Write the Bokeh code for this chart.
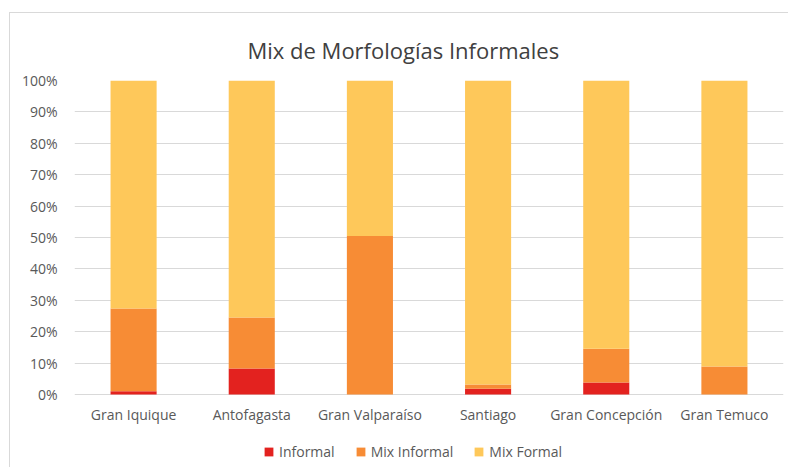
from bokeh.plotting import figure
from bokeh.models import FactorRange, Range1d, NumeralTickFormatter, Legend, LegendItem, FixedTicker, ColumnDataSource
from bokeh.core.properties import value
from bokeh.embed import file_html
from bokeh.resources import INLINE

categories = ["Gran Iquique", "Antofagasta", "Gran Valparaíso", "Santiago", "Gran Concepción", "Gran Temuco"]
series_names = ["Informal", "Mix Informal", "Mix Formal"]
informal = [0.010, 0.083, 0.000, 0.018, 0.038, 0.000]
mix_informal = [0.264, 0.162, 0.505, 0.014, 0.108, 0.089]
mix_formal = [0.726, 0.755, 0.495, 0.968, 0.854, 0.911]
y_ticks = [0, 0.1, 0.2, 0.3, 0.4, 0.5, 0.6, 0.7, 0.8, 0.9, 1.0]
colors = ["#E3221F", "#F78C35", "#FEC85A"]

source = ColumnDataSource(dict(cat=categories, Informal=informal, **{"Mix Informal": mix_informal, "Mix Formal": mix_formal}))

FONT = "Open Sans"

# frame extends below 0% to host category labels and legend (72px below the 314px 0-100% span)
y_start = -72 / 314

p = figure(x_range=FactorRange(factors=categories, range_padding=0), y_range=Range1d(y_start, 1),
           frame_width=709, frame_height=386, output_backend="svg", toolbar_location=None,
           min_border_left=64, min_border_right=5, min_border_top=67, min_border_bottom=1,
           title="Mix de Morfologías Informales")
p.styles = {"border-left": "1px solid #d9d9d9", "border-top": "1px solid #d9d9d9", "margin-left": "9px", "margin-top": "12px"}

p.title.align = "left"
p.title.offset = 173
p.title.standoff = 31
p.title.text_font = FONT
p.title.text_font_size = "22px"
p.title.text_font_style = "normal"
p.title.text_color = "#404040"

renderers = p.vbar_stack(series_names, x="cat", width=0.39, color=colors, source=source, line_width=0)

p.text(x="cat", y=0, text="cat", source=source, text_align="center", text_baseline="top",
       y_offset=10, text_font=value(FONT), text_font_size="14px", text_color="#595959")

p.outline_line_color = None
p.xgrid.grid_line_color = None
p.ygrid.grid_line_color = "#d9d9d9"
p.ygrid.ticker = FixedTicker(ticks=y_ticks)

p.xaxis.visible = False

p.yaxis.ticker = FixedTicker(ticks=y_ticks)
p.yaxis.formatter = NumeralTickFormatter(format="0%")
p.yaxis.axis_line_color = None
p.yaxis.major_tick_line_color = None
p.yaxis.minor_tick_line_color = None
p.yaxis.major_tick_out = 0
p.yaxis.major_label_standoff = 17
p.yaxis.major_label_text_font = FONT
p.yaxis.major_label_text_font_size = "14px"
p.yaxis.major_label_text_color = "#595959"

legend = Legend(items=[LegendItem(label=n, renderers=[r]) for n, r in zip(series_names, renderers)],
                orientation="horizontal", location=(189, 5))
legend.border_line_color = None
legend.background_fill_alpha = 0
legend.label_text_font = FONT
legend.label_text_font_size = "14px"
legend.label_text_color = "#595959"
legend.glyph_width = 11
legend.glyph_height = 11
legend.spacing = 20
legend.label_standoff = 5
legend.padding = 0
legend.margin = 0
p.add_layout(legend, "center")

open("out.html", "w").write(file_html(p, INLINE))
